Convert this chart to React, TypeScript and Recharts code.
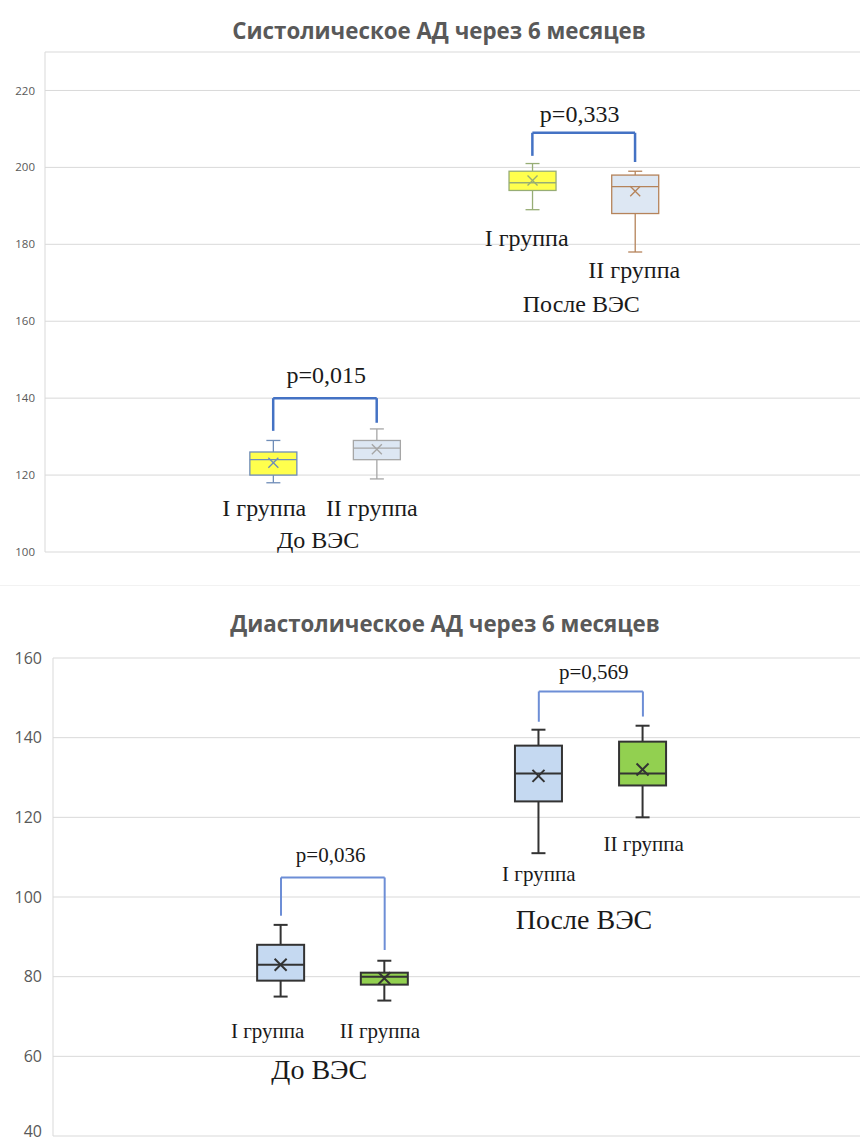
import React from "react"
import { Bar, CartesianGrid, ComposedChart, ReferenceDot, ReferenceLine, XAxis, YAxis } from "recharts"

// groups and subgroups
const periods = ["До ВЭС", "После ВЭС"]
const subgroups = ["I группа", "II группа"]

// systolic BP, order: До I, До II, После I, После II
const sysMin = [118, 119, 189, 178]
const sysQ1 = [120, 124, 194, 188]
const sysMedian = [124, 127, 196, 195]
const sysQ3 = [126, 129, 199, 198]
const sysMax = [129, 132, 201, 199]
const sysMean = [123.2, 126.7, 196.6, 193.8]
const sysP = ["p=0,015", "p=0,333"]
const sysTicks = [100, 120, 140, 160, 180, 200, 220]

// diastolic BP
const diaMin = [75, 74, 111, 120]
const diaQ1 = [79, 78, 124, 128]
const diaMedian = [83, 80, 131, 131]
const diaQ3 = [88, 81, 138, 139]
const diaMax = [93, 84, 142, 143]
const diaMean = [83, 79.6, 130.4, 132]
const diaP = ["p=0,036", "p=0,569"]
const diaTicks = [40, 60, 80, 100, 120, 140, 160]

// layout (x in 0..100 units of the hidden axis, y in chart units)
const sysSlots = [28.0, 40.7, 59.8, 72.4]
const diaSlots = [28.25, 41.1, 60.2, 73.1]
const sysBrackets = [
  { top: 140, left: 131.5, right: 133.6 },
  { top: 209, left: 203, right: 201.4 },
]
const diaBrackets = [
  { top: 104.9, left: 95.3, right: 86.7 },
  { top: 151.6, left: 144, right: 145.3 },
]
const sysPPos = [{ x: 34.5, y: 146 }, { x: 65.6, y: 213.8 }]
const diaPPos = [{ x: 34.4, y: 110.6 }, { x: 67.0, y: 156.5 }]
const sysSubPos = [{ x: 26.9, y: 111.4 }, { x: 40.1, y: 111.4 }, { x: 59.1, y: 181.6 }, { x: 72.3, y: 173.2 }]
const diaSubPos = [{ x: 26.6, y: 66.4 }, { x: 40.5, y: 66.4 }, { x: 60.2, y: 105.8 }, { x: 73.2, y: 113.3 }]
const sysPeriodPos = [{ x: 33.5, y: 103 }, { x: 65.8, y: 164.4 }]
const diaPeriodPos = [{ x: 33.0, y: 56.6 }, { x: 65.8, y: 94.3 }]

const sysStyles = [
  { fill: "#ffff4d", stroke: "#6f8db8" },
  { fill: "#dde7f3", stroke: "#a6a6a6" },
  { fill: "#ffff4d", stroke: "#97ad75" },
  { fill: "#dde7f3", stroke: "#b5835a" },
]
const diaStyles = [
  { fill: "#c5d9f1", stroke: "#333333" },
  { fill: "#92d050", stroke: "#333333" },
  { fill: "#c5d9f1", stroke: "#333333" },
  { fill: "#92d050", stroke: "#333333" },
]

const buildRows = (slots, min, q1, med, q3, max, mean) =>
  slots.map((s, i) => ({ i, slot: s, box: [q1[i], q3[i]], min: min[i], median: med[i], max: max[i], mean: mean[i] }))

const sysRows = buildRows(sysSlots, sysMin, sysQ1, sysMedian, sysQ3, sysMax, sysMean)
const diaRows = buildRows(diaSlots, diaMin, diaQ1, diaMedian, diaQ3, diaMax, diaMean)

function BoxShape(props) {
  const { x, y, width, height, payload, styles, sw, cap, cross } = props
  const [q1, q3] = payload.box
  const k = height / (q3 - q1)
  const py = (v) => y + (q3 - v) * k
  const cx = x + width / 2
  const st = styles[payload.i]
  const m = py(payload.mean)
  return (
    <g stroke={st.stroke} strokeWidth={sw} fill="none">
      <line x1={cx} x2={cx} y1={py(payload.max)} y2={y} />
      <line x1={cx} x2={cx} y1={y + height} y2={py(payload.min)} />
      <line x1={cx - cap} x2={cx + cap} y1={py(payload.max)} y2={py(payload.max)} />
      <line x1={cx - cap} x2={cx + cap} y1={py(payload.min)} y2={py(payload.min)} />
      <rect x={x} y={y} width={width} height={height} fill={st.fill} />
      <line x1={x} x2={x + width} y1={py(payload.median)} y2={py(payload.median)} />
      <line x1={cx - cross} x2={cx + cross} y1={m - cross} y2={m + cross} />
      <line x1={cx - cross} x2={cx + cross} y1={m + cross} y2={m - cross} />
    </g>
  )
}

const textAt = (label, size) => (p) => (
  <text x={p.cx} y={p.cy} textAnchor="middle" dominantBaseline="central" fontFamily="'Liberation Serif', serif" fontSize={size} fill="#1a1a1a">
    {label}
  </text>
)

// y tick that stays inside the chart at the bottom edge
const makeTick = (fontSize, limit) => (p) => (
  <text x={p.x} y={Math.min(p.y, limit)} dy="0.355em" textAnchor="end" fill="#595959" fontSize={fontSize} fontFamily="'Open Sans', sans-serif">
    {p.payload.value}
  </text>
)

function BoxChart({ rows, slots, ticks, domain, styles, brackets, pLabels, pPos, subPos, periodPos, height, top, bottom, axisWidth, tickSize, tickMargin, pSize, subSize, periodSize, bracketColor, bracketWidth, sw, cap, cross }) {
  return (
    <ComposedChart width={860} height={height} data={rows} margin={{ top, right: 0, bottom, left: 0 }}>
      <CartesianGrid vertical={false} stroke="#d9d9d9" />
      <XAxis type="number" dataKey="slot" domain={[0, 100]} hide />
      <YAxis
        type="number"
        domain={domain}
        ticks={ticks}
        width={axisWidth}
        tickLine={false}
        axisLine={{ stroke: "#d9d9d9" }}
        tick={makeTick(tickSize, height - tickSize * 0.75)}
        tickMargin={tickMargin}
        interval={0}
      />
      <Bar dataKey="box" barSize={47} isAnimationActive={false} shape={(p) => <BoxShape {...p} styles={styles} sw={sw} cap={cap} cross={cross} />} />
      {brackets.map((b, j) => {
        const xl = slots[j * 2]
        const xr = slots[j * 2 + 1]
        return (
          <React.Fragment key={"b" + j}>
            <ReferenceLine segment={[{ x: xl, y: b.left }, { x: xl, y: b.top }]} stroke={bracketColor} strokeWidth={bracketWidth} />
            <ReferenceLine segment={[{ x: xl, y: b.top }, { x: xr, y: b.top }]} stroke={bracketColor} strokeWidth={bracketWidth} />
            <ReferenceLine segment={[{ x: xr, y: b.top }, { x: xr, y: b.right }]} stroke={bracketColor} strokeWidth={bracketWidth} />
          </React.Fragment>
        )
      })}
      {pLabels.map((t, j) => (
        <ReferenceDot key={"p" + j} x={pPos[j].x} y={pPos[j].y} r={0} shape={textAt(t, pSize)} />
      ))}
      {subPos.map((pos, j) => (
        <ReferenceDot key={"s" + j} x={pos.x} y={pos.y} r={0} shape={textAt(subgroups[j % 2], subSize)} />
      ))}
      {periods.map((t, j) => (
        <ReferenceDot key={"g" + j} x={periodPos[j].x} y={periodPos[j].y} r={0} shape={textAt(t, periodSize)} />
      ))}
    </ComposedChart>
  )
}

const titleStyle: React.CSSProperties = {
  position: "absolute",
  width: 860,
  textAlign: "center",
  fontFamily: "'Open Sans', sans-serif",
  fontWeight: 700,
  color: "#595959",
  lineHeight: 1,
}

export default function App() {
  return (
    <div style={{ position: "absolute", left: 0, top: 0, width: 860, height: 1143, background: "#fff", overflow: "hidden" }}>
      <div style={{ position: "absolute", left: 0, top: 0, width: 860, height: 585, borderBottom: "1px solid #f2f2f2" }}>
        <div style={{ ...titleStyle, left: 9, top: 20, fontSize: 22.3 }}>Систолическое АД через 6 месяцев</div>
        <BoxChart
          rows={sysRows}
          slots={sysSlots}
          ticks={sysTicks}
          domain={[100, 230]}
          styles={sysStyles}
          brackets={sysBrackets}
          pLabels={sysP}
          pPos={sysPPos}
          subPos={sysSubPos}
          periodPos={sysPeriodPos}
          height={585}
          top={52}
          bottom={33}
          axisWidth={45}
          tickSize={11.5}
          tickMargin={4}
          pSize={24}
          subSize={24}
          periodSize={24}
          bracketColor="#4472c4"
          bracketWidth={2.5}
          sw={1.3}
          cap={7}
          cross={5}
        />
      </div>
      <div style={{ position: "absolute", left: 0, top: 586, width: 860, height: 557 }}>
        <div style={{ ...titleStyle, left: 15, top: 27, fontSize: 22.3 }}>Диастолическое АД через 6 месяцев</div>
        <BoxChart
          rows={diaRows}
          slots={diaSlots}
          ticks={diaTicks}
          domain={[40, 160]}
          styles={diaStyles}
          brackets={diaBrackets}
          pLabels={diaP}
          pPos={diaPPos}
          subPos={diaSubPos}
          periodPos={diaPeriodPos}
          height={557}
          top={72}
          bottom={7}
          axisWidth={53}
          tickSize={16}
          tickMargin={5}
          pSize={21}
          subSize={21}
          periodSize={28}
          bracketColor="#6d8ed6"
          bracketWidth={2}
          sw={2}
          cap={7}
          cross={6}
        />
      </div>
    </div>
  )
}
